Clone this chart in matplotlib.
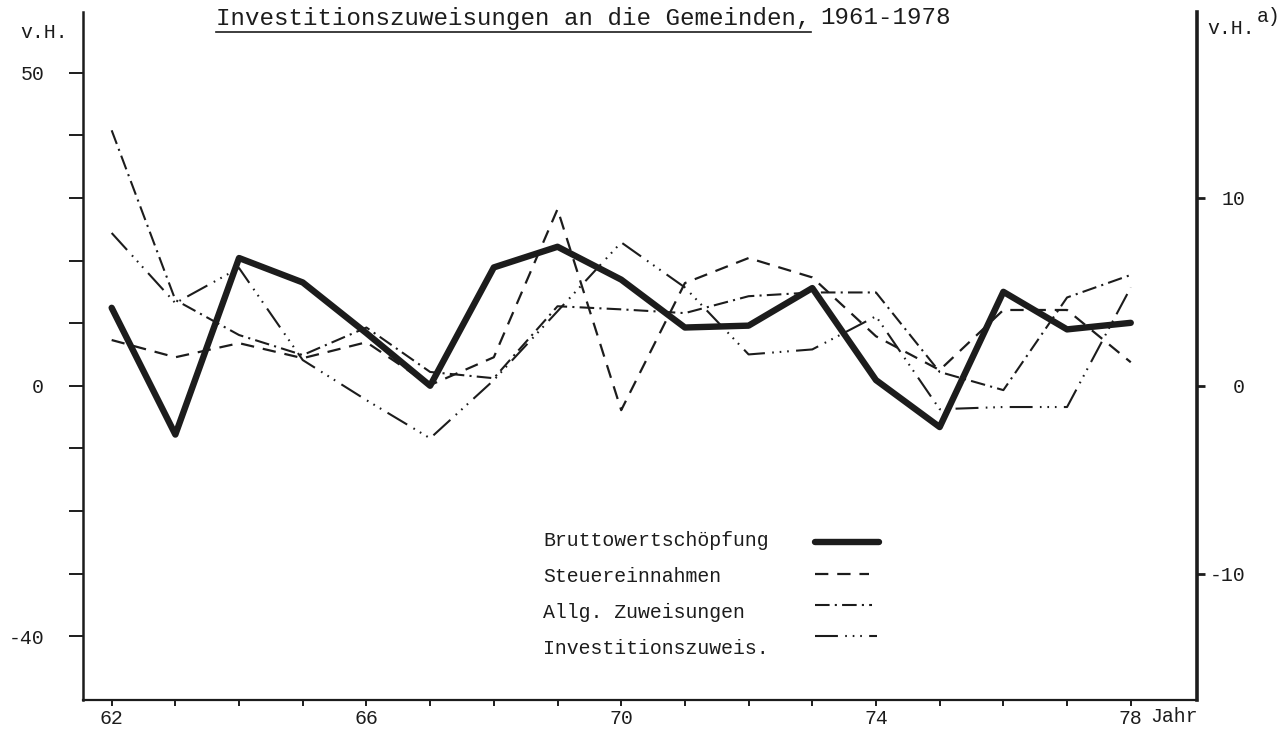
import matplotlib.pyplot as plt
import numpy as np
from matplotlib.lines import Line2D

# growth rates in v.H., years 1962-1978 (axis shows 62..78)
years = np.arange(62, 79)
brutto = [4.15, -2.6, 6.8, 5.5, 2.8, 0.0, 6.3, 7.4, 5.65, 3.1, 3.2, 5.2, 0.3, -2.2, 5.0, 3.0, 3.35]  # right axis
steuer = [7.3, 4.55, 6.8, 4.4, 6.95, 0.1, 4.55, 28.2, -3.9, 16.4, 20.4, 17.3, 7.9, 2.5, 12.1, 12.1, 3.75]
allg = [40.8, 13.7, 8.1, 4.9, 9.3, 2.2, 1.2, 12.7, 12.2, 11.6, 14.3, 14.9, 14.9, 2.2, -0.7, 14.1, 17.7]
invest = [24.4, 13.2, 18.8, 4.1, -2.3, -8.4, 0.9, 11.9, 22.9, 15.7, 5.0, 5.8, 11.1, -3.75, -3.4, -3.4, 15.7]

labelled_years = [62, 66, 70, 74, 78]
left_ticks = list(range(-40, 51, 10))
left_labelled = [50, 0, -40]
right_ticks = [-10, 0, 10]

legend_names = ['Bruttowertschöpfung', 'Steuereinnahmen', 'Allg. Zuweisungen', 'Investitionszuweis.']

plt.rcParams['font.family'] = ['Liberation Mono', 'DejaVu Sans Mono']
INK = '#1c1c1c'
W, H = 1280, 730
FS = 14.3


def fx(x):
    return x / W


def fy(y):
    return 1 - y / H


# line styles
styles = {
    'brutto': dict(lw=4.6, ls='-', solid_capstyle='round'),
    'steuer': dict(lw=1.6, ls=(0, (6, 4))),
    'allg': dict(lw=1.5, ls=(0, (7, 2.5, 1, 2.5))),
    'invest': dict(lw=1.5, ls=(0, (11, 3.5, 0.8, 2.8, 0.8, 2.8, 0.8, 3.5))),
}

fig = plt.figure(figsize=(12.8, 7.3), dpi=100)
ax = fig.add_axes([fx(83), fy(700), (1197 - 83) / W, (700 - 12) / H])
ax2 = ax.twinx()

ylo, yhi = -50.2, 59.7
ax.set_xlim(61.55, 79.04)
ax.set_ylim(ylo, yhi)
ax2.set_ylim(ylo / 3, yhi / 3)

ax.plot(years, steuer, color=INK, **styles['steuer'])
ax.plot(years, allg, color=INK, **styles['allg'])
ax.plot(years, invest, color=INK, **styles['invest'])
ax2.plot(years, brutto, color=INK, **styles['brutto'])

# spines
for a in (ax, ax2):
    a.spines['top'].set_visible(False)
ax.spines['right'].set_visible(False)
ax2.spines['left'].set_visible(False)
ax2.spines['bottom'].set_visible(False)
ax.spines['left'].set_linewidth(1.8)
ax.spines['bottom'].set_linewidth(1.6)
ax2.spines['right'].set_linewidth(2.6)
for s in ('left', 'bottom'):
    ax.spines[s].set_color(INK)
ax2.spines['right'].set_color(INK)

# ticks
ax.set_xticks(years, labels=[str(y) if y in labelled_years else '' for y in years])
ax.set_yticks(left_ticks, labels=[str(v) if v in left_labelled else '' for v in left_ticks])
ax.tick_params(axis='x', direction='out', length=4, width=1.4, pad=2.5, labelsize=FS, colors=INK)
ax.tick_params(axis='y', direction='out', length=10, width=1.4, pad=18, labelsize=FS, colors=INK)

ax2.set_yticks(right_ticks, labels=[str(v) for v in right_ticks])
ax2.tick_params(axis='y', direction='out', length=6, width=2.0, pad=28.5, labelsize=FS, colors=INK)
for lbl in ax2.get_yticklabels():
    lbl.set_horizontalalignment('right')

# title, partly underlined
t1 = fig.text(fx(216), fy(18), 'Investitionszuweisungen an die Gemeinden,',
              fontsize=17.4, ha='left', va='center', color=INK)
fig.canvas.draw()
bb = t1.get_window_extent()
fig.text((bb.x1 + 10) / W, fy(18), '1961-1978', fontsize=17.4, ha='left', va='center', color=INK)
fig.add_artist(Line2D([bb.x0 / W, bb.x1 / W], [fy(32), fy(32)], color=INK, lw=1.2))

# axis unit labels
fig.text(fx(20), fy(32), 'v.H.', fontsize=FS, va='center', color=INK)
fig.text(fx(1207), fy(29), 'v.H.', fontsize=FS, va='center', color=INK)
fig.text(fx(1257), fy(17), 'a)', fontsize=FS, va='center', color=INK)
fig.text(fx(1150), fy(707), 'Jahr', fontsize=FS, va='top', color=INK)

# hand-made legend
text_y = [541, 577, 612, 648]
line_y = [542, 574, 605, 636]
line_x1 = [879, 869, 872, 877]
keys = ['brutto', 'steuer', 'allg', 'invest']
for name, ty, ly, x1, k in zip(legend_names, text_y, line_y, line_x1, keys):
    fig.text(fx(543), fy(ty), name, fontsize=FS, va='center', color=INK)
    fig.add_artist(Line2D([fx(815), fx(x1)], [fy(ly), fy(ly)], color=INK, **styles[k]))

fig.savefig('out.png', dpi=100)
